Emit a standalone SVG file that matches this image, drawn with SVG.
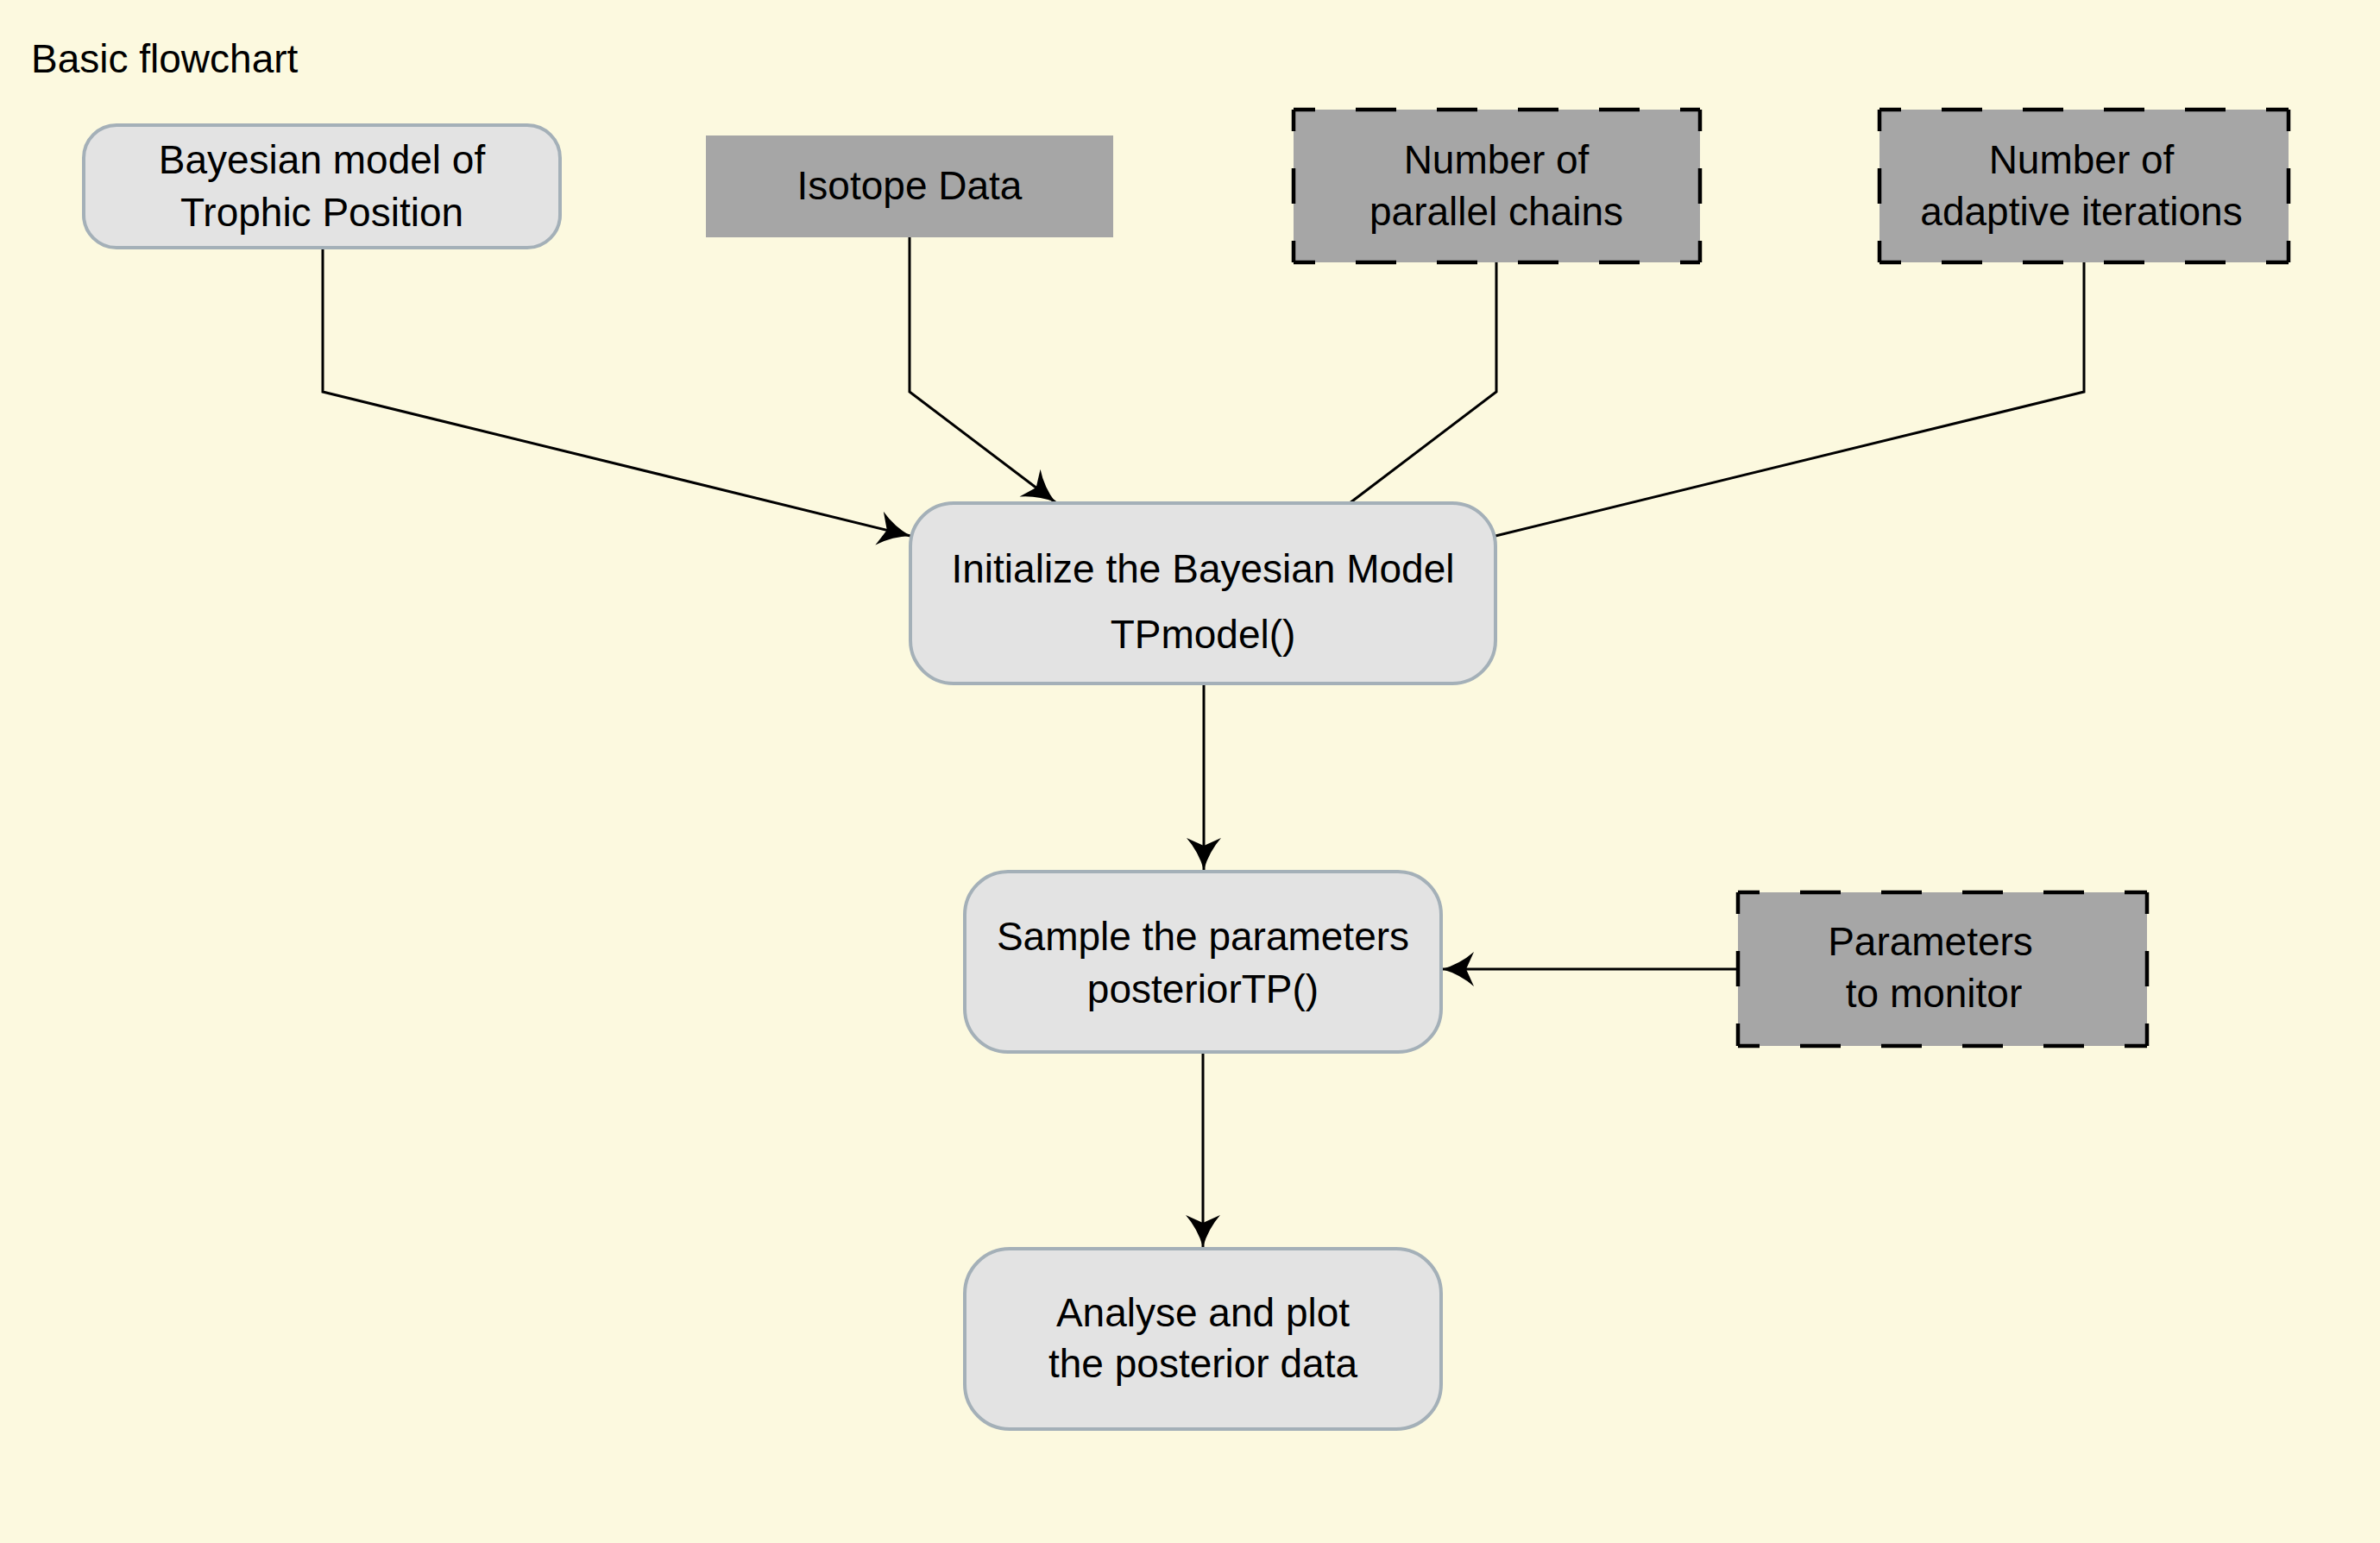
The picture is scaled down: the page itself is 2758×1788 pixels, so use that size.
<svg xmlns="http://www.w3.org/2000/svg" width="2758" height="1788" viewBox="0 0 2758 1788">
  <style>
    text { font-family: "Liberation Sans", Arial, sans-serif; font-size: 46px; fill: #000; text-anchor: middle; }
    .title { text-anchor: start; }
    .soft { fill: #e3e3e3; stroke: #a4b0b8; stroke-width: 4; }
    .data { fill: #a6a6a6; }
    .hdash { stroke: #000; stroke-width: 4.5; stroke-dasharray: 47 47; stroke-dashoffset: 22; fill: none; }
    .vdash { stroke: #000; stroke-width: 4.5; stroke-dasharray: 25 43 41 43 26 500; fill: none; }
    .conn { fill: none; stroke: #000; stroke-width: 3; stroke-linejoin: miter; }
  </style>
  <defs>
    <marker id="arrow" markerUnits="userSpaceOnUse" viewBox="-42 -25 47 50" refX="0" refY="0" markerWidth="47" markerHeight="50" orient="auto">
      <path d="M0,0 Q-21,-6 -37,-20 L-28,0 L-37,20 Q-21,6 0,0 Z" fill="#000"/>
    </marker>
  </defs>
  <rect x="0" y="0" width="2758" height="1788" fill="#fcf9df"/>
  <text class="title" x="36" y="84">Basic flowchart</text>

  <g id="connectors">
    <path class="conn" d="M374,287 L374,454 L1055,621" marker-end="url(#arrow)"/>
    <path class="conn" d="M1054,275 L1054,454 L1223,582" marker-end="url(#arrow)"/>
    <path class="conn" d="M1734,304 L1734,454 L1564,583"/>
    <path class="conn" d="M2415,303 L2415,454 L1733,621"/>
    <path class="conn" d="M1395,792 L1395,1008" marker-end="url(#arrow)"/>
    <path class="conn" d="M2014,1123 L1671,1123" marker-end="url(#arrow)"/>
    <path class="conn" d="M1394,1219 L1394,1445" marker-end="url(#arrow)"/>
  </g>

  <g id="node-bayesian-model">
    <rect class="soft" x="97" y="145" width="552" height="142" rx="38" ry="38"/>
    <text x="373" y="201">Bayesian model of</text>
    <text x="373" y="262">Trophic Position</text>
  </g>

  <g id="node-isotope-data">
    <rect class="data" x="818" y="157" width="472" height="118"/>
    <text x="1054" y="231">Isotope Data</text>
  </g>

  <g id="node-parallel-chains">
    <rect class="data" x="1499" y="127" width="471" height="177"/>
    <line class="hdash" x1="1499" y1="127" x2="1970" y2="127"/>
    <line class="hdash" x1="1499" y1="304" x2="1970" y2="304"/>
    <line class="vdash" x1="1499" y1="127" x2="1499" y2="304"/>
    <line class="vdash" x1="1970" y1="127" x2="1970" y2="304"/>
    <text x="1734" y="201">Number of</text>
    <text x="1734" y="261">parallel chains</text>
  </g>

  <g id="node-adaptive-iterations">
    <rect class="data" x="2178" y="127" width="474" height="177"/>
    <line class="hdash" x1="2178" y1="127" x2="2652" y2="127"/>
    <line class="hdash" x1="2178" y1="304" x2="2652" y2="304"/>
    <line class="vdash" x1="2178" y1="127" x2="2178" y2="304"/>
    <line class="vdash" x1="2652" y1="127" x2="2652" y2="304"/>
    <text x="2412" y="201">Number of</text>
    <text x="2412" y="261">adaptive iterations</text>
  </g>

  <g id="node-initialize">
    <rect class="soft" x="1055" y="583" width="678" height="209" rx="50" ry="50"/>
    <text x="1394" y="675">Initialize the Bayesian Model</text>
    <text x="1394" y="751">TPmodel()</text>
  </g>

  <g id="node-sample">
    <rect class="soft" x="1118" y="1010" width="552" height="209" rx="50" ry="50"/>
    <text x="1394" y="1101">Sample the parameters</text>
    <text x="1394" y="1162">posteriorTP()</text>
  </g>

  <g id="node-parameters-monitor">
    <rect class="data" x="2014" y="1034" width="474" height="178"/>
    <line class="hdash" x1="2014" y1="1034" x2="2488" y2="1034"/>
    <line class="hdash" x1="2014" y1="1212" x2="2488" y2="1212"/>
    <line class="vdash" x1="2014" y1="1034" x2="2014" y2="1212"/>
    <line class="vdash" x1="2488" y1="1034" x2="2488" y2="1212"/>
    <text x="2237" y="1107">Parameters</text>
    <text x="2241" y="1167">to monitor</text>
  </g>

  <g id="node-analyse">
    <rect class="soft" x="1118" y="1447" width="552" height="209" rx="52" ry="52"/>
    <text x="1394" y="1537">Analyse and plot</text>
    <text x="1394" y="1596">the posterior data</text>
  </g>
</svg>
